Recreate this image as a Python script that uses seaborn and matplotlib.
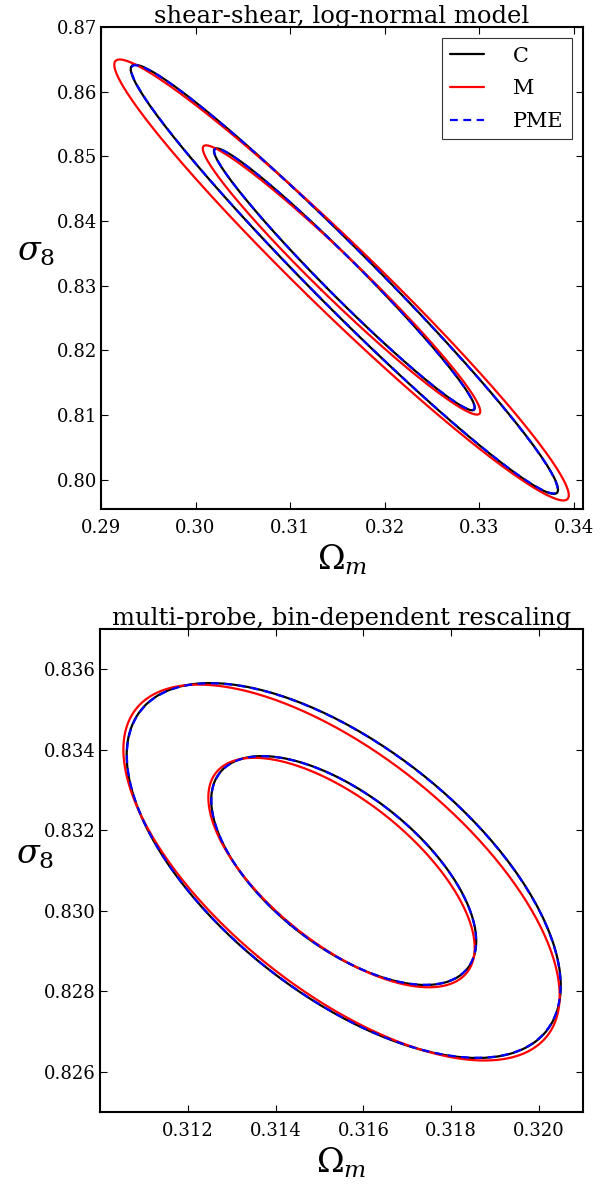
import numpy as np
import pandas as pd
import matplotlib
matplotlib.use("Agg")
import matplotlib.pyplot as plt
import seaborn as sns

# Fisher-ellipse parameters, one entry per model (C, M, PME)
models = ["C", "M", "PME"]
colors = ["black", "red", "blue"]
styles = ["-", "-", "--"]

# panel 1: shear-shear, log-normal model
top_om = [0.31575, 0.31545, 0.31575]
top_s8 = [0.83100, 0.83090, 0.83100]
top_sig_om = [0.00910, 0.00968, 0.00908]
top_sig_s8 = [0.01335, 0.01372, 0.01332]
top_rho = [-0.980, -0.976, -0.980]
top_xticks = [0.29, 0.30, 0.31, 0.32, 0.33, 0.34]
top_yticks = [0.80, 0.81, 0.82, 0.83, 0.84, 0.85, 0.86, 0.87]

# panel 2: multi-probe, bin-dependent rescaling
bot_om = [0.31555, 0.31550, 0.31555]
bot_s8 = [0.83100, 0.83095, 0.83100]
bot_sig_om = [0.001990, 0.002000, 0.001988]
bot_sig_s8 = [0.001875, 0.001880, 0.001873]
bot_rho = [-0.615, -0.655, -0.615]
bot_xticks = [0.312, 0.314, 0.316, 0.318, 0.320]
bot_yticks = [0.826, 0.828, 0.830, 0.832, 0.834, 0.836]

# delta chi^2 for 1 and 2 sigma, two parameters
levels = [2.30, 6.17]


def ellipse_frame(om, s8, sig_om, sig_s8, rho):
    rows = []
    t = np.linspace(0, 2 * np.pi, 400)
    for i, name in enumerate(models):
        cov = np.array([[sig_om[i] ** 2, rho[i] * sig_om[i] * sig_s8[i]],
                        [rho[i] * sig_om[i] * sig_s8[i], sig_s8[i] ** 2]])
        vals, vecs = np.linalg.eigh(cov)
        for lev, dchi in enumerate(levels):
            circ = np.vstack([np.cos(t), np.sin(t)]) * np.sqrt(vals * dchi)[:, None]
            pts = vecs @ circ
            rows.append(pd.DataFrame({
                "om": om[i] + pts[0],
                "s8": s8[i] + pts[1],
                "model": name,
                "contour": f"{name}{lev}",
            }))
    return pd.concat(rows, ignore_index=True)


def draw_panel(ax, df, title, xt, yt, fmt):
    for i, name in enumerate(models):
        sub = df[df["model"] == name]
        for cid in sub["contour"].unique():
            part = sub[sub["contour"] == cid]
            kw = {"dashes": (3.5, 2.5)} if styles[i] == "--" else {}
            sns.lineplot(data=part, x="om", y="s8", sort=False, estimator=None,
                         color=colors[i], linewidth=1.6, ax=ax, legend=False, **kw)
    ax.set_title(title, fontsize=17.5, pad=3)
    ax.set_xlabel(r"$\Omega_m$", fontsize=24)
    ax.set_ylabel(r"$\sigma_8$", fontsize=24, rotation=0)
    ax.yaxis.set_label_coords(-0.135, 0.5)
    ax.set_xticks(xt)
    ax.set_xticklabels([fmt % v for v in xt])
    ax.set_yticks(yt)
    ax.set_yticklabels([fmt % v for v in yt])
    ax.tick_params(direction="in", top=True, right=True, length=5, width=0.8,
                   labelsize=13, colors="black")
    ax.tick_params(axis="x", pad=7)
    ax.tick_params(axis="y", pad=3)
    for sp in ax.spines.values():
        sp.set_linewidth(1.5)
        sp.set_color("black")


sns.set_style("ticks")
plt.rcParams["font.family"] = ["DejaVu Serif"]
plt.rcParams["mathtext.fontset"] = "dejavuserif"
plt.rcParams["text.color"] = "black"
plt.rcParams["axes.labelcolor"] = "black"
plt.rcParams["axes.titlecolor"] = "black"

fig = plt.figure(figsize=(6.08, 11.84), dpi=100)
ax1 = fig.add_axes([0.1661, 0.5701, 0.7928, 0.4071])
ax2 = fig.add_axes([0.1645, 0.0608, 0.7944, 0.4079])

draw_panel(ax1, ellipse_frame(top_om, top_s8, top_sig_om, top_sig_s8, top_rho),
           "shear-shear, log-normal model", top_xticks, top_yticks, "%.2f")
ax1.set_xlim(0.29, 0.341)
ax1.set_ylim(0.7955, 0.87)
handles = [plt.Line2D([], [], color=c, linewidth=1.6) for c in colors]
handles[2].set_dashes((3.5, 2.5))
leg = ax1.legend(handles, models, loc="upper right", fontsize=15, frameon=True,
                 fancybox=False, edgecolor="black", handlelength=1.6,
                 handletextpad=1.4, borderpad=0.4, labelspacing=0.65,
                 borderaxespad=0.55)
leg.get_frame().set_linewidth(0.8)
for txt in leg.get_texts():
    txt.set_color("black")

draw_panel(ax2, ellipse_frame(bot_om, bot_s8, bot_sig_om, bot_sig_s8, bot_rho),
           "multi-probe, bin-dependent rescaling", bot_xticks, bot_yticks, "%.3f")
ax2.set_xlim(0.310, 0.321)
ax2.set_ylim(0.825, 0.837)

fig.savefig("out.png", dpi=100)
